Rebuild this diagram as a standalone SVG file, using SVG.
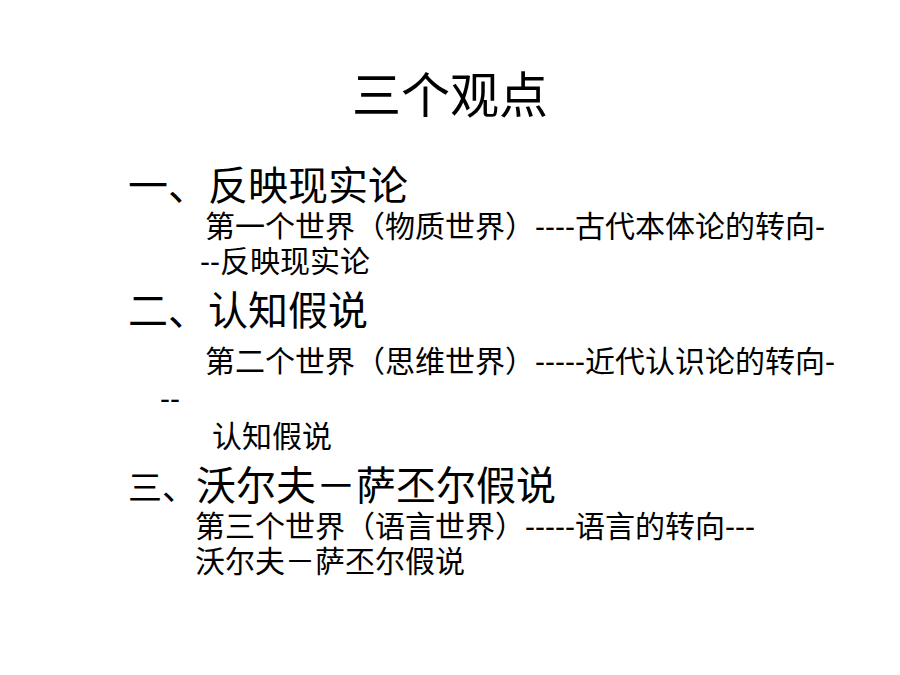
<svg xmlns="http://www.w3.org/2000/svg" width="900" height="675" viewBox="0 0 900 675">
<style>
text { font-family: "Liberation Sans", "Noto Sans CJK SC", sans-serif; fill: #000; }
.title { font-size: 49px; }
.h { font-size: 40px; }
.s { font-size: 30px; }
</style>
<rect x="0" y="0" width="900" height="675" fill="#fff"/>
<g id="title"><text class="title" x="450" y="113" text-anchor="middle">三个观点</text></g>
<g id="point1">
<text class="h" x="128" y="200">一、反映现实论</text>
<text class="s" x="205" y="237">第一个世界（物质世界）----古代本体论的转向-</text>
<text class="s" x="200" y="272">--反映现实论</text>
</g>
<g id="point2">
<text class="h" x="128" y="325">二、认知假说</text>
<text class="s" x="205" y="372">第二个世界（思维世界）-----近代认识论的转向-</text>
<text class="s" x="160" y="409">--</text>
<text class="s" x="212" y="447">认知假说</text>
</g>
<g id="point3">
<text class="h" x="128" y="500"><tspan font-size="34">三、</tspan>沃尔夫－萨丕尔假说</text>
<text class="s" x="195" y="537">第三个世界（语言世界）-----语言的转向---</text>
<text class="s" x="195" y="572">沃尔夫－萨丕尔假说</text>
</g>
</svg>
